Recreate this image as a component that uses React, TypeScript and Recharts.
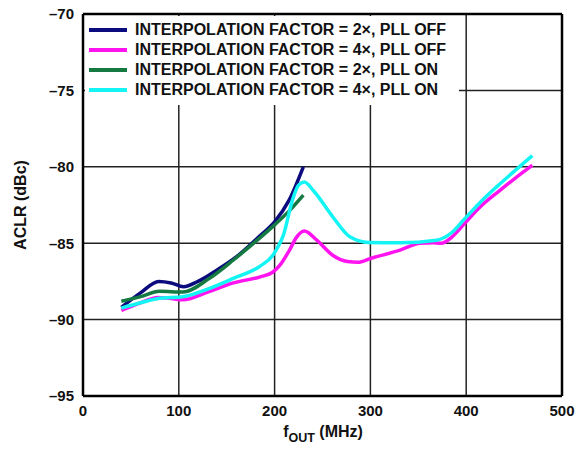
import React from "react"
import {
  LineChart,
  Line,
  XAxis,
  YAxis,
  CartesianGrid,
  ReferenceLine,
  Label,
} from "recharts"

const xTicks = [0, 100, 200, 300, 400, 500]
const yTicks = [-95, -90, -85, -80, -75, -70]

// 2x, PLL OFF
const x2Off = [
  { x: 40, y: -89.2 },
  { x: 60, y: -88.25 },
  { x: 79, y: -87.5 },
  { x: 92, y: -87.6 },
  { x: 105, y: -87.85 },
  { x: 120, y: -87.5 },
  { x: 140, y: -86.75 },
  { x: 160, y: -85.9 },
  { x: 185, y: -84.5 },
  { x: 200, y: -83.6 },
  { x: 215, y: -82.2 },
  { x: 230, y: -80.0 },
]

// 4x, PLL OFF
const x4Off = [
  { x: 40, y: -89.4 },
  { x: 60, y: -88.9 },
  { x: 78, y: -88.55 },
  { x: 90, y: -88.6 },
  { x: 104, y: -88.7 },
  { x: 130, y: -88.2 },
  { x: 157, y: -87.6 },
  { x: 185, y: -87.2 },
  { x: 198, y: -86.9 },
  { x: 206, y: -86.4 },
  { x: 216, y: -85.4 },
  { x: 223, y: -84.6 },
  { x: 231, y: -84.2 },
  { x: 244, y: -84.8 },
  { x: 261, y: -85.8 },
  { x: 276, y: -86.2 },
  { x: 287, y: -86.25 },
  { x: 300, y: -86.0 },
  { x: 331, y: -85.45 },
  { x: 352, y: -85.0 },
  { x: 365, y: -84.97 },
  { x: 374, y: -85.0 },
  { x: 385, y: -84.6 },
  { x: 397, y: -83.8 },
  { x: 415, y: -82.6 },
  { x: 432, y: -81.7 },
  { x: 450, y: -80.8 },
  { x: 469, y: -79.9 },
]

// 2x, PLL ON
const x2On = [
  { x: 40, y: -88.8 },
  { x: 60, y: -88.5 },
  { x: 80, y: -88.15 },
  { x: 104, y: -88.2 },
  { x: 132, y: -87.3 },
  { x: 157, y: -86.1 },
  { x: 180, y: -84.9 },
  { x: 200, y: -83.8 },
  { x: 215, y: -82.9 },
  { x: 230, y: -81.85 },
]

// 4x, PLL ON
const x4On = [
  { x: 40, y: -89.25 },
  { x: 60, y: -88.9 },
  { x: 80, y: -88.6 },
  { x: 104, y: -88.5 },
  { x: 130, y: -88.0 },
  { x: 157, y: -87.3 },
  { x: 185, y: -86.5 },
  { x: 198, y: -85.8 },
  { x: 203, y: -85.3 },
  { x: 209, y: -84.5 },
  { x: 219, y: -82.1 },
  { x: 225, y: -81.2 },
  { x: 231, y: -81.0 },
  { x: 241, y: -81.6 },
  { x: 261, y: -83.3 },
  { x: 279, y: -84.6 },
  { x: 298, y: -84.95 },
  { x: 331, y: -84.97 },
  { x: 369, y: -84.8 },
  { x: 385, y: -84.3 },
  { x: 397, y: -83.5 },
  { x: 415, y: -82.3 },
  { x: 432, y: -81.3 },
  { x: 450, y: -80.3 },
  { x: 469, y: -79.27 },
]

const series = [
  { name: "INTERPOLATION FACTOR = 2×, PLL OFF", data: x2Off, color: "#0b0b7d" },
  { name: "INTERPOLATION FACTOR = 4×, PLL OFF", data: x4Off, color: "#ff14f0" },
  { name: "INTERPOLATION FACTOR = 2×, PLL ON", data: x2On, color: "#157a42" },
  { name: "INTERPOLATION FACTOR = 4×, PLL ON", data: x4On, color: "#14f4f4" },
]

const FONT = "'Liberation Sans', Arial, sans-serif"
const tickStyle = { fontSize: 15, fontWeight: 700, fill: "#111", fontFamily: FONT }
const dash = (v: number) => String(v).replace("-", "–")

export default function App() {
  return (
    <div style={{ position: "relative", width: 585, height: 452, margin: -8, background: "#fff" }}>
      <LineChart width={585} height={452} margin={{ top: 14, right: 23, bottom: 0, left: 0 }}>
        <CartesianGrid stroke="#222" strokeWidth={1.5} />
        <XAxis
          type="number"
          dataKey="x"
          domain={[0, 500]}
          ticks={xTicks}
          height={56}
          tickSize={0}
          tickMargin={9}
          tick={tickStyle}
          axisLine={{ stroke: "#000", strokeWidth: 2.5 }}
          allowDataOverflow
        >
          <Label
            content={() => (
              <text x={323} y={437} textAnchor="middle" fontFamily={FONT} fontWeight={700} fontSize={16} fill="#111">
                f<tspan fontSize={12.5} dy={5}>OUT</tspan>
                <tspan dy={-5}> (MHz)</tspan>
              </text>
            )}
          />
        </XAxis>
        <YAxis
          type="number"
          domain={[-95, -70]}
          ticks={yTicks}
          width={83}
          tickSize={0}
          tickMargin={9}
          tick={tickStyle}
          tickFormatter={dash}
          axisLine={{ stroke: "#000", strokeWidth: 2.5 }}
          allowDataOverflow
        >
          <Label
            content={() => (
              <text
                x={20}
                y={205}
                transform="rotate(-90 20 205)"
                textAnchor="middle"
                dominantBaseline="central"
                fontFamily={FONT}
                fontWeight={700}
                fontSize={16}
                fill="#111"
              >
                ACLR (dBc)
              </text>
            )}
          />
        </YAxis>
        <ReferenceLine y={-70} stroke="#000" strokeWidth={2.5} />
        <ReferenceLine x={500} stroke="#000" strokeWidth={2.5} />
        {series.map((s) => (
          <Line
            key={s.name}
            data={s.data}
            dataKey="y"
            name={s.name}
            type="monotone"
            stroke={s.color}
            strokeWidth={3.5}
            dot={false}
            isAnimationActive={false}
          />
        ))}
      </LineChart>
      <div
        style={{
          position: "absolute",
          left: 85,
          top: 16,
          width: 374,
          height: 89,
          background: "#fff",
        }}
      >
        {series.map((s, i) => (
          <div
            key={s.name}
            style={{
              position: "absolute",
              left: 0,
              top: 4 + i * 20,
              height: 20,
              display: "flex",
              alignItems: "center",
              whiteSpace: "nowrap",
            }}
          >
            <div style={{ width: 38, height: 3.5, background: s.color, marginLeft: 4, marginRight: 8 }} />
            <span style={{ fontFamily: FONT, fontWeight: 700, fontSize: 16, color: "#111" }}>{s.name}</span>
          </div>
        ))}
      </div>
    </div>
  )
}
